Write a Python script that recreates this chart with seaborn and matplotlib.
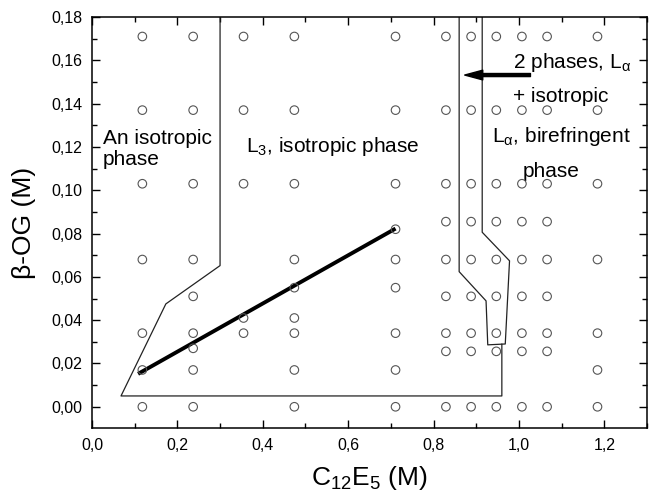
import matplotlib
matplotlib.use('Agg')
import matplotlib.pyplot as plt
import matplotlib.ticker as mticker
import seaborn as sns
import pandas as pd

sns.set_style('ticks')
plt.rcParams['font.family'] = ['Liberation Sans', 'DejaVu Sans']
plt.rcParams['mathtext.fontset'] = 'custom'
plt.rcParams['mathtext.rm'] = 'Liberation Sans'
plt.rcParams['mathtext.it'] = 'Liberation Sans'
plt.rcParams['mathtext.default'] = 'regular'
plt.rcParams['text.color'] = 'black'
plt.rcParams['axes.labelcolor'] = 'black'
plt.rcParams['xtick.color'] = 'black'
plt.rcParams['ytick.color'] = 'black'

# ── Data: sample compositions, per C12E5 column ─────
col_x = [0.118, 0.237, 0.355, 0.474, 0.711, 0.829, 0.888, 0.947, 1.007, 1.066, 1.184]
col_y = [
    [0.171, 0.137, 0.103, 0.068, 0.034, 0.017, 0.0],
    [0.171, 0.137, 0.103, 0.068, 0.051, 0.034, 0.027, 0.017, 0.0],
    [0.171, 0.137, 0.103, 0.041, 0.034],
    [0.171, 0.137, 0.103, 0.068, 0.055, 0.041, 0.034, 0.017, 0.0],
    [0.171, 0.137, 0.103, 0.082, 0.068, 0.055, 0.034, 0.017, 0.0],
    [0.171, 0.137, 0.103, 0.0855, 0.068, 0.051, 0.034, 0.0256, 0.0],
    [0.171, 0.137, 0.103, 0.0855, 0.068, 0.051, 0.034, 0.0256, 0.0],
    [0.171, 0.137, 0.103, 0.0855, 0.068, 0.051, 0.034, 0.0256, 0.0],
    [0.171, 0.137, 0.103, 0.0855, 0.068, 0.051, 0.034, 0.0256, 0.0],
    [0.171, 0.137, 0.103, 0.0855, 0.068, 0.051, 0.034, 0.0256, 0.0],
    [0.171, 0.137, 0.103, 0.068, 0.034, 0.017, 0.0],
]

# phase boundaries
bound1_x = [0.300, 0.300, 0.173, 0.068, 0.960, 0.960]
bound1_y = [0.180, 0.0652, 0.0475, 0.005, 0.005, 0.029]
bound2_x = [0.860, 0.860, 0.923, 0.927, 0.968, 0.978, 0.914, 0.914]
bound2_y = [0.180, 0.0624, 0.0489, 0.0286, 0.029, 0.0674, 0.0806, 0.180]

# dilution line
dil_x = [0.108, 0.711]
dil_y = [0.0152, 0.0823]

rows = [(x, y) for x, ys in zip(col_x, col_y) for y in ys]
pts = pd.DataFrame(rows, columns=['c12e5', 'bog'])

fig = plt.figure(figsize=(6.5, 4.96), dpi=100)
ax = fig.add_axes([0.1415, 0.1371, 0.8539, 0.8286])

ax.plot(bound1_x, bound1_y, color='#222222', lw=0.9, zorder=2)
ax.plot(bound2_x, bound2_y, color='#222222', lw=0.9, zorder=2)
ax.plot(dil_x, dil_y, color='black', lw=2.8, solid_capstyle='butt', zorder=3)

sns.scatterplot(data=pts, x='c12e5', y='bog', ax=ax, marker='o', s=38,
                facecolor='none', edgecolor='#555555', linewidth=0.8, zorder=4)

ax.annotate('', xy=(0.873, 0.1532), xytext=(1.027, 0.1532),
            arrowprops=dict(facecolor='black', edgecolor='black', width=2.2,
                            headwidth=7, headlength=13, shrink=0))

fs = 15
ax.text(0.025, 0.1214, 'An isotropic', fontsize=fs, va='baseline')
ax.text(0.025, 0.1117, 'phase', fontsize=fs, va='baseline')
ax.text(0.360, 0.1178, r'L$_3$, isotropic phase', fontsize=fs, va='baseline')
ax.text(0.985, 0.1564, r'2 phases, L$_α$', fontsize=fs, va='baseline')
ax.text(0.985, 0.1407, '+ isotropic', fontsize=fs, va='baseline')
ax.text(0.938, 0.1223, r'L$_α$, birefringent', fontsize=fs, va='baseline')
ax.text(1.008, 0.1061, 'phase', fontsize=fs, va='baseline')

ax.set_xlim(0.0, 1.3)
ax.set_ylim(-0.0098, 0.18)
ax.xaxis.set_major_locator(mticker.MultipleLocator(0.2))
ax.xaxis.set_minor_locator(mticker.MultipleLocator(0.1))
ax.yaxis.set_minor_locator(mticker.MultipleLocator(0.01))
ax.xaxis.set_major_formatter(mticker.FuncFormatter(lambda v, p: f'{v:.1f}'.replace('.', ',')))
ax.yaxis.set_major_formatter(mticker.FuncFormatter(lambda v, p: f'{v:.2f}'.replace('.', ',')))
ax.set_yticks([0.0, 0.02, 0.04, 0.06, 0.08, 0.10, 0.12, 0.14, 0.16, 0.18])

ax.tick_params(which='both', direction='in', top=True, right=True, color='black')
ax.tick_params(which='major', length=6, width=1.0, labelsize=11.5, pad=7)
ax.tick_params(which='minor', length=3.5, width=1.0)
for sp in ax.spines.values():
    sp.set_linewidth(1.1)
    sp.set_color('black')

ax.set_xlabel(r'C$_{12}$E$_5$ (M)', fontsize=19, labelpad=8)
ax.set_ylabel('β-OG (M)', fontsize=19, labelpad=11)

plt.savefig('out.png', dpi=100)
plt.close(fig)
